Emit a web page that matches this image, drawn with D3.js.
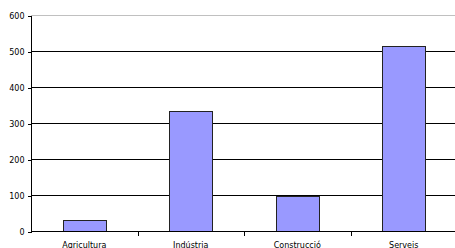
<!DOCTYPE html>
<html>
<head>
<meta charset="utf-8">
<script src="https://cdn.jsdelivr.net/npm/d3@7"></script>
<style>
  body { margin: 0; background: #fff; }
  .axis text { font-family: "DejaVu Sans", sans-serif; font-size: 8px; fill: #000; }
  .axis path, .axis line { stroke: #000; shape-rendering: crispEdges; }
</style>
</head>
<body>
<script>
var categories = ["Agricultura", "Indústria", "Construcció", "Serveis"];
var values = [30, 333, 98, 515];
var yTicks = [0, 100, 200, 300, 400, 500, 600];

var width = 455, height = 248;
var margin = {left: 31, top: 15, right: -2, bottom: 17};

var svg = d3.select("body").append("svg")
  .attr("width", width)
  .attr("height", height);

var x = d3.scaleBand()
  .domain(categories)
  .range([margin.left, width - margin.right])
  .paddingInner(0)
  .paddingOuter(0);

var y = d3.scaleLinear()
  .domain([0, 600])
  .range([height - margin.bottom, margin.top]);

// gridlines
svg.append("g")
  .selectAll("line")
  .data(yTicks.filter(function (d) { return d > 0; }))
  .enter()
  .append("line")
  .attr("x1", margin.left)
  .attr("x2", width)
  .attr("y1", function (d) { return Math.round(y(d)) + 0.5; })
  .attr("y2", function (d) { return Math.round(y(d)) + 0.5; })
  .attr("stroke", function (d) { return d === 600 ? "#c0c0c0" : "#000"; })
  .attr("stroke-width", 1);

// bars
var barW = x.bandwidth() * 0.4;
svg.append("g")
  .selectAll("rect")
  .data(values)
  .enter()
  .append("rect")
  .attr("x", function (d, i) { return Math.round(x(categories[i]) + (x.bandwidth() - barW) / 2) + 0.5; })
  .attr("y", function (d) { return Math.round(y(d)) + 0.5; })
  .attr("width", Math.round(barW))
  .attr("height", function (d) { return Math.round(y(0)) - Math.round(y(d)); })
  .attr("fill", "#9999ff")
  .attr("stroke", "#222")
  .attr("stroke-width", 1);

// y axis
var yAxis = d3.axisLeft(y)
  .tickValues(yTicks)
  .tickSize(4)
  .tickPadding(3)
  .tickFormat(d3.format("d"));
svg.append("g")
  .attr("class", "axis")
  .attr("transform", "translate(" + (margin.left + 0.5) + ",0.5)")
  .call(yAxis)
  .call(function (g) { g.select(".domain").attr("d", "M0," + Math.round(y(600)) + "V" + Math.round(y(0))); });

// x axis
var xAxis = d3.axisBottom(x)
  .tickSize(0)
  .tickPadding(11);
var xg = svg.append("g")
  .attr("class", "axis")
  .attr("transform", "translate(0," + (Math.round(y(0)) + 0.5) + ")")
  .call(xAxis);
xg.select(".domain").attr("d", "M" + margin.left + ",0H" + width);
// tick marks at category boundaries
xg.selectAll(".bound")
  .data(categories.slice(1))
  .enter()
  .append("line")
  .attr("class", "bound")
  .attr("x1", function (d) { return Math.round(x(d)) + 0.5; })
  .attr("x2", function (d) { return Math.round(x(d)) + 0.5; })
  .attr("y1", 0)
  .attr("y2", 4);
</script>
</body>
</html>
